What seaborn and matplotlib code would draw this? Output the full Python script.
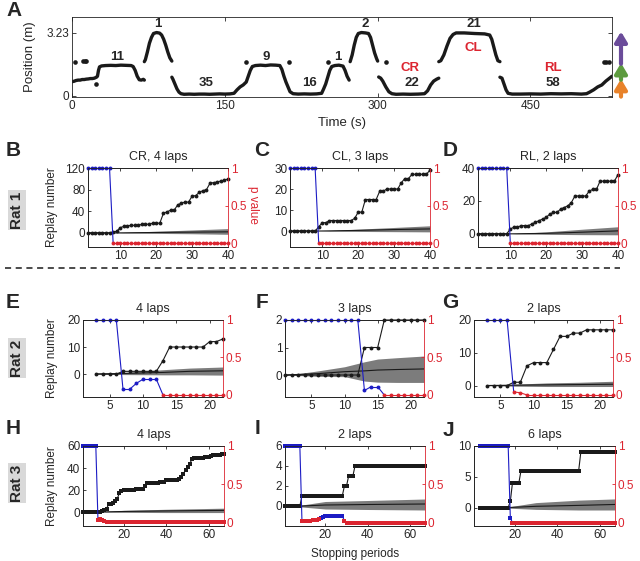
import numpy as np
import matplotlib
matplotlib.use('Agg')
import matplotlib.pyplot as plt
from matplotlib.lines import Line2D
import seaborn as sns

sns.set_theme(style="ticks")
plt.rcParams['font.family'] = ['Liberation Sans', 'DejaVu Sans']
plt.rcParams['axes.linewidth'] = 0.6

RED = '#dc2530'
BLUE = '#1c1cc4'
GRAY = '#7c7c7c'
nan = np.nan

# --- panel A: position on the track vs time (NaN = gap in the trace) ---
track_t = [0, 2, 4, 6, 8, 10, 12, 14, 16, 18, 20, 22, 24, 25, 26, 27, 29, 33, 38, 43, 48, 53, 58, 60, 62, 64, 66, 68, 70, 71, nan,
           71, 72, 74, 76, 78, 80, 83, 86, 88, 90, 92, 94, 96, 98, nan,
           98, 99, 101, 103, 105, 107, 110, 115, 120, 125, 130, 135, 140, 145, 150, 155, 159, 162, 165, 168, 171, 173, 175, 177,
           180, 185, 190, 195, 200, 204, 206, 208, 210, 212, 214, 217, 222, 228, 234, 240, 245, 247, 249, 251, 253, 255,
           258, 262, 266, 268, 270, 272, nan,
           273, 275, 277, 279, 281, 284, 288, 291, 293, 295, 297, 299, 300, nan,
           301, 303, 305, 308, 311, 314, 318, 325, 332, 340, 346, 349, 352, 355, 358, 360, nan,
           360, 362, 365, 368, 371, 374, 377, 385, 395, 405, 410, 412, 414, 416, 418, 420, nan,
           420, 422, 424, 426, 428, 432, 440, 450, 460, 470, 480, 490, 500, 505, 508, 512, 516, 520, 524, 528, 530]
track_pos = [0.72, 0.74, 0.78, 0.80, 0.80, 0.83, 0.83, 0.85, 0.86, 0.88, 0.88, 0.90, 0.95, 1.00, 1.30, 1.48, 1.53, 1.55, 1.56,
             1.55, 1.57, 1.56, 1.55, 1.50, 1.30, 1.00, 0.82, 0.80, 0.84, 0.80, nan,
             1.75, 1.85, 2.25, 2.70, 3.00, 3.20, 3.25, 3.22, 3.12, 2.90, 2.60, 2.25, 1.95, 1.78, nan,
             0.95, 0.85, 0.60, 0.35, 0.18, 0.10, 0.07, 0.08, 0.07, 0.08, 0.08, 0.07, 0.08, 0.09, 0.08, 0.09, 0.12, 0.30, 0.45,
             0.55, 0.70, 1.00, 1.30, 1.50, 1.55, 1.57, 1.55, 1.58, 1.57, 1.55, 1.35, 1.00, 0.70, 0.45, 0.20, 0.10, 0.08, 0.09,
             0.08, 0.09, 0.12, 0.35, 0.60, 0.95, 1.30, 1.50, 1.55, 1.57, 1.52, 1.30, 1.00, 0.80, nan,
             1.75, 2.10, 2.60, 3.00, 3.20, 3.25, 3.23, 3.20, 3.00, 2.60, 2.20, 1.90, 1.78, nan,
             0.96, 0.90, 0.75, 0.45, 0.20, 0.10, 0.07, 0.08, 0.07, 0.08, 0.10, 0.25, 0.55, 0.75, 0.85, 0.90, nan,
             1.75, 1.80, 2.10, 2.55, 2.95, 3.15, 3.23, 3.23, 3.20, 3.18, 3.12, 2.90, 2.50, 2.10, 1.80, 1.75, nan,
             0.95, 0.90, 0.60, 0.30, 0.12, 0.08, 0.08, 0.09, 0.08, 0.10, 0.09, 0.10, 0.08, 0.10, 0.18, 0.30, 0.45, 0.55, 0.75,
             0.92, 1.00]
dot_t = [3, 11, 13, 14, 24, 171, 213, 251, 308, 522, 524, 527]
dot_pos = [1.72, 1.78, 1.80, 1.78, 0.60, 1.72, 1.72, 1.72, 1.72, 1.75, 1.75, 1.75]
lap_text = ['11', '1', '35', '9', '16', '1', '2', '22', '21', '58']
lap_t = [44, 84, 132, 191, 233, 261, 288, 334, 394, 472]
lap_pos = [2.0, 3.68, 0.65, 2.0, 0.65, 2.0, 3.68, 0.65, 3.68, 0.65]
zone_text = ['CR', 'CL', 'RL']
zone_t = [332, 394, 472]
zone_pos = [1.4, 2.44, 1.4]

# --- panels B-J: replay number (left axis), shuffle band, p value (right axis) ---
x_B = np.arange(1, 41)
rep_B = [0, 0, 0, 0, 0, 0, 0, 2, 3, 10, 12, 13, 14, 14, 14, 16, 16, 16, 18, 18,
         18, 36, 39, 42, 42, 52, 55, 57, 57, 68, 69, 75, 78, 80, 92, 93, 94, 96, 97, 100]
p_B = [1, 1, 1, 1, 1, 1, 1, 0, 0, 0, 0, 0, 0, 0, 0, 0, 0, 0, 0, 0,
       0, 0, 0, 0, 0, 0, 0, 0, 0, 0, 0, 0, 0, 0, 0, 0, 0, 0, 0, 0]
band_x_B = [1, 8, 15, 22, 30, 40]
band_m_B = [0, 0, 0.5, 1, 1.5, 2]
band_lo_B = [0, 0, -0.5, -1, -1.5, -2.5]
band_hi_B = [0, 0, 2, 3.5, 5.5, 8]

x_C = np.arange(1, 41)
rep_C = [0, 0, 0, 0, 0, 0, 0, 0, 2, 4, 4, 5, 5, 5, 5, 5, 5, 5, 6, 9,
         9, 15, 15, 15, 15, 19, 19, 20, 20, 20, 20, 23, 25, 25, 27, 27, 27, 27, 27, 29]
p_C = [1, 1, 1, 1, 1, 1, 1, 1, 0, 0, 0, 0, 0, 0, 0, 0, 0, 0, 0, 0,
       0, 0, 0, 0, 0, 0, 0, 0, 0, 0, 0, 0, 0, 0, 0, 0, 0, 0, 0, 0]
band_x_C = [1, 9, 20, 30, 40]
band_m_C = [0, 0, 0.3, 0.7, 1.0]
band_lo_C = [0, 0, -0.2, -0.3, -0.4]
band_hi_C = [0, 0, 0.9, 1.7, 2.5]

x_D = np.arange(1, 41)
rep_D = [0, 0, 0, 0, 0, 0, 0, 0, 0, 3, 4, 4, 5, 5, 5, 6, 7, 8, 9, 10,
         12, 13, 13, 15, 16, 17, 19, 23, 23, 23, 23, 26, 27, 27, 32, 32, 32, 32, 32, 36]
p_D = [1, 1, 1, 1, 1, 1, 1, 1, 1, 0, 0, 0, 0, 0, 0, 0, 0, 0, 0, 0,
       0, 0, 0, 0, 0, 0, 0, 0, 0, 0, 0, 0, 0, 0, 0, 0, 0, 0, 0, 0]
band_x_D = [1, 10, 20, 30, 40]
band_m_D = [0, 0, 0.3, 1.0, 1.8]
band_lo_D = [0, 0, -0.3, -0.5, -0.6]
band_hi_D = [0, 0, 1.2, 2.8, 4.3]

x_E = np.arange(3, 23)
rep_E = [0, 0, 0, 0, 1, 1, 1, 1, 1, 1, 5, 10, 10, 10, 10, 10, 10, 12, 12, 13]
p_E = [1, 1, 1, 1, 0.076, 0.076, 0.155, 0.21, 0.21, 0.21, 0, 0, 0, 0, 0, 0, 0, 0, 0, 0]
band_x_E = [3, 7, 13, 17, 22]
band_m_E = [0, 0.2, 0.6, 1.0, 1.2]
band_lo_E = [0, -0.2, -0.3, -0.3, -0.4]
band_hi_E = [0, 0.6, 1.6, 2.2, 2.6]

x_F = np.arange(1, 23)
rep_F = [0, 0, 0, 0, 0, 0, 0, 0, 0, 0, 0, 0, 1, 1, 1, 2, 2, 2, 2, 2, 2, 2]
p_F = [1, 1, 1, 1, 1, 1, 1, 1, 1, 1, 1, 1, 0.06, 0.11, 0.11, 0, 0, 0, 0, 0, 0, 0]
band_x_F = [1, 3, 6, 10, 13, 15, 18, 22]
band_m_F = [0, 0.02, 0.05, 0.12, 0.15, 0.18, 0.2, 0.22]
band_lo_F = [0, -0.02, -0.05, -0.06, -0.22, -0.26, -0.27, -0.27]
band_hi_F = [0, 0.05, 0.15, 0.3, 0.48, 0.58, 0.63, 0.69]

x_G = np.arange(3, 23)
rep_G = [0, 0, 0, 0, 1, 1, 6, 7, 7, 7, 11, 15, 15, 16, 16, 17, 17, 17, 17, 17]
p_G = [1, 1, 1, 1, 0.04, 0.03, 0, 0, 0, 0, 0, 0, 0, 0, 0, 0, 0, 0, 0, 0]
band_x_G = [3, 7, 12, 17, 22]
band_m_G = [0, 0.1, 0.2, 0.3, 0.4]
band_lo_G = [0, -0.2, -0.3, -0.3, -0.3]
band_hi_G = [0, 0.4, 0.8, 1.0, 1.3]

x_H = np.arange(1, 68)
rep_H = [0, 0, 0, 0, 0, 0, 0, 0, 0, 1, 2, 3, 7, 7, 8, 10, 12, 17, 19, 20,
         20, 20, 20, 20, 20, 21, 21, 21, 21, 24, 26, 26, 26, 26, 26, 26, 27, 27, 27, 29,
         29, 29, 29, 29, 29, 30, 32, 35, 38, 41, 44, 48, 49, 49, 49, 49, 49, 50, 50, 50,
         51, 52, 52, 52, 52, 53, 53]
p_H = [1, 1, 1, 1, 1, 1, 1, 0.04, 0.045, 0.04, 0.02, 0.01, 0.01, 0.01, 0.01, 0.01, 0.01, 0.01, 0.01, 0.01,
       0.01, 0.01, 0.01, 0.01, 0.01, 0.01, 0.01, 0.01, 0.01, 0.01, 0.01, 0.01, 0.01, 0.01, 0.01, 0.01, 0.01, 0.01, 0.01, 0.01,
       0.01, 0.01, 0.01, 0.01, 0.01, 0.01, 0.01, 0.01, 0.01, 0.01, 0.01, 0.01, 0.01, 0.01, 0.01, 0.01, 0.01, 0.01, 0.01, 0.01,
       0.01, 0.01, 0.01, 0.01, 0.01, 0.01, 0.01]
band_x_H = [1, 8, 20, 40, 67]
band_m_H = [0, 0, 0.5, 1.0, 1.5]
band_lo_H = [0, 0, -0.3, -0.5, -0.5]
band_hi_H = [0, 0, 1.5, 2.5, 3.5]

x_I = np.arange(1, 68)
rep_I = [0, 0, 0, 0, 0, 0, 0, 0, 1, 1, 1, 1, 1, 1, 1, 1, 1, 1, 1, 1,
         1, 1, 1, 1, 1, 1, 1, 1, 2, 2, 3, 3, 3, 4, 4, 4, 4, 4, 4, 4,
         4, 4, 4, 4, 4, 4, 4, 4, 4, 4, 4, 4, 4, 4, 4, 4, 4, 4, 4, 4,
         4, 4, 4, 4, 4, 4, 4]
p_I = [1, 1, 1, 1, 1, 1, 1, 1, 0.02, 0.02, 0.025, 0.03, 0.03, 0.035, 0.04, 0.04, 0.045, 0.07, 0.08, 0.09,
       0.09, 0.09, 0.09, 0.09, 0.09, 0.09, 0.09, 0.09, 0.03, 0.005, 0.005, 0.005, 0.005, 0.005, 0.005, 0.005, 0.005, 0.005, 0.005, 0.005,
       0.005, 0.005, 0.005, 0.005, 0.005, 0.005, 0.005, 0.005, 0.005, 0.005, 0.005, 0.005, 0.005, 0.005, 0.005, 0.005, 0.005, 0.005, 0.005, 0.005,
       0.005, 0.005, 0.005, 0.005, 0.005, 0.005, 0.005]
band_x_I = [1, 9, 20, 40, 67]
band_m_I = [0, 0, 0.1, 0.15, 0.2]
band_lo_I = [0, -0.1, -0.3, -0.35, -0.4]
band_hi_I = [0, 0.1, 0.45, 0.55, 0.7]

x_J = np.arange(4, 68)
rep_J = [0, 0, 0, 0, 0, 0, 0, 0, 0, 0, 0, 0, 0, 0, 1, 4, 4, 4, 4, 6,
         6, 6, 6, 6, 6, 6, 6, 6, 6, 6, 6, 6, 6, 6, 6, 6, 6, 6, 6, 6,
         6, 6, 6, 6, 6, 6, 6, 9, 9, 9, 9, 9, 9, 9, 9, 9, 9, 9, 9, 9,
         9, 9, 9, 9]
p_J = [1, 1, 1, 1, 1, 1, 1, 1, 1, 1, 1, 1, 1, 1, 0.07, 0, 0, 0, 0, 0,
       0, 0, 0, 0, 0, 0, 0, 0, 0, 0, 0, 0, 0, 0, 0, 0, 0, 0, 0, 0,
       0, 0, 0, 0, 0, 0, 0, 0, 0, 0, 0, 0, 0, 0, 0, 0, 0, 0, 0, 0,
       0, 0, 0, 0]
band_x_J = [4, 17, 30, 50, 67]
band_m_J = [0, 0, 0.2, 0.35, 0.5]
band_lo_J = [0, -0.1, -0.3, -0.4, -0.4]
band_hi_J = [0, 0.1, 0.8, 1.2, 1.4]

FIG_W, FIG_H = 640, 561
fig = plt.figure(figsize=(6.4, 5.61), dpi=100)

TICK_FS = 8.5


def add_ax(left, top, right, bottom):
    return fig.add_axes([left / FIG_W, 1 - bottom / FIG_H,
                         (right - left) / FIG_W, (bottom - top) / FIG_H])


def style_spines(ax):
    for s in ax.spines.values():
        s.set_linewidth(0.6)
        s.set_color('#222222')


# ---------------- panel A ----------------
axA = add_ax(72, 17, 612, 97)
axA.plot(track_t, track_pos, color='k', lw=2.4, solid_capstyle='round')
sns.scatterplot(x=dot_t, y=dot_pos, ax=axA, color='k', s=11, linewidth=0)
for txt, t, p in zip(lap_text, lap_t, lap_pos):
    axA.text(t, p, txt, ha='center', va='center', fontsize=9.5, fontweight='bold')
for txt, t, p in zip(zone_text, zone_t, zone_pos):
    axA.text(t, p, txt, ha='center', va='center', fontsize=9.5, fontweight='bold', color=RED)
axA.set_xlim(0, 530)
axA.set_ylim(-0.07, 4.05)
axA.set_xticks([0, 150, 300, 450])
axA.set_yticks([0, 3.23])
axA.set_yticklabels(['0', '3.23'])
axA.tick_params(direction='in', length=3, width=0.6, labelsize=TICK_FS, pad=2, top=True, right=True)
axA.set_xlabel('Time (s)', fontsize=9.5)
axA.set_ylabel('Position (m)', fontsize=9.5, va='center')
axA.xaxis.set_label_coords(0.5, -0.25)
axA.yaxis.set_label_coords(-0.078, 0.5)
style_spines(axA)

arrow_x = (621 - 72) / 540
for y0, y1, col in [(-0.05, 0.86, '#e8822a'), (0.82, 1.68, '#5d9b3f'), (1.64, 3.3, '#6b4c9a')]:
    axA.annotate('', xy=(arrow_x, y1), xytext=(arrow_x, y0),
                 xycoords=('axes fraction', 'data'), textcoords=('axes fraction', 'data'),
                 arrowprops=dict(arrowstyle='-|>,head_length=0.5,head_width=0.3', color=col, lw=3,
                                 shrinkA=0, shrinkB=0),
                 annotation_clip=False)


# ---------------- panels B-J ----------------
def replay_panel(box, x, rep, pv, bx, bm, blo, bhi, xlim, ylim, yticks, xticks, pbottom,
                 title, marker, ms):
    ax = add_ax(*box)
    x = np.asarray(x)
    pv = np.asarray(pv, dtype=float)
    ax.fill_between(bx, blo, bhi, color=GRAY, lw=0, zorder=1)
    ax.plot(bx, bm, color='k', lw=0.8, zorder=2)
    sns.lineplot(x=x, y=rep, ax=ax, color='k', lw=0.8, marker=marker, markersize=ms,
                 markeredgewidth=0, clip_on=False, zorder=3)
    ax.set_xlim(*xlim)
    ax.set_ylim(*ylim)
    ax.set_yticks(yticks)
    ax.set_xticks(xticks)
    ax.tick_params(direction='in', length=2.5, width=0.6, labelsize=TICK_FS, pad=2,
                   top=True, right=False)
    ax.set_title(title, fontsize=9, pad=6)
    style_spines(ax)
    ax.spines['right'].set_visible(False)

    ax2 = ax.twinx()
    sig = pv < 0.05
    for i in range(len(x) - 1):
        ax2.plot(x[i:i + 2], pv[i:i + 2], color=RED if sig[i] else BLUE, lw=0.8, clip_on=False)
    ax2.plot(x[~sig], pv[~sig], ls='none', marker=marker, ms=ms, mew=0, color=BLUE, clip_on=False)
    ax2.plot(x[sig], pv[sig], ls='none', marker=marker, ms=ms, mew=0, color=RED, clip_on=False)
    ax2.set_ylim(pbottom, 1)
    ax2.set_yticks([0, 0.5, 1])
    ax2.set_yticklabels(['0', '0.5', '1'])
    ax2.tick_params(axis='y', direction='in', length=2.5, width=0.6, labelsize=TICK_FS, pad=2,
                    colors=RED)
    style_spines(ax2)
    ax2.spines['right'].set_color(RED)
    return ax, ax2


row1 = (168, 247)
row2 = (320, 397)
row3 = (446, 526)

axB, axB2 = replay_panel((88, row1[0], 228, row1[1]), x_B, rep_B, p_B, band_x_B, band_m_B, band_lo_B, band_hi_B,
                         (1, 40), (-26, 120), [0, 40, 80, 120], [10, 20, 30, 40], -0.053, 'CR, 4 laps', 'o', 2.8)
axC, _ = replay_panel((290, row1[0], 430, row1[1]), x_C, rep_C, p_C, band_x_C, band_m_C, band_lo_C, band_hi_C,
                      (1, 40), (-7.6, 30), [0, 10, 20, 30], [10, 20, 30, 40], -0.053, 'CL, 3 laps', 'o', 2.8)
axD, _ = replay_panel((478, row1[0], 618, row1[1]), x_D, rep_D, p_D, band_x_D, band_m_D, band_lo_D, band_hi_D,
                      (1, 40), (-8, 40), [0, 20, 40], [10, 20, 30, 40], -0.053, 'RL, 2 laps', 'o', 2.8)

axE, _ = replay_panel((83, row2[0], 223, row2[1]), x_E, rep_E, p_E, band_x_E, band_m_E, band_lo_E, band_hi_E,
                      (1, 22), (-8.5, 20), [0, 10, 20], [5, 10, 15, 20], -0.027, '4 laps', 'o', 2.8)
axF, _ = replay_panel((285, row2[0], 424, row2[1]), x_F, rep_F, p_F, band_x_F, band_m_F, band_lo_F, band_hi_F,
                      (1, 22), (-0.8, 2), [0, 1, 2], [5, 10, 15, 20], -0.027, '3 laps', 'o', 2.8)
axG, _ = replay_panel((474, row2[0], 613, row2[1]), x_G, rep_G, p_G, band_x_G, band_m_G, band_lo_G, band_hi_G,
                      (1, 22), (-3.5, 20), [0, 10, 20], [5, 10, 15, 20], -0.027, '2 laps', 'o', 2.8)

axH, _ = replay_panel((83, row3[0], 224, row3[1]), x_H, rep_H, p_H, band_x_H, band_m_H, band_lo_H, band_hi_H,
                      (1, 67), (-12.7, 60), [0, 20, 40, 60], [20, 40, 60], -0.04, '4 laps', 's', 2.2)
axI, _ = replay_panel((285, row3[0], 425, row3[1]), x_I, rep_I, p_I, band_x_I, band_m_I, band_lo_I, band_hi_I,
                      (1, 67), (-2, 6), [0, 2, 4, 6], [20, 40, 60], -0.04, '2 laps', 's', 2.2)
axJ, _ = replay_panel((474, row3[0], 615, row3[1]), x_J, rep_J, p_J, band_x_J, band_m_J, band_lo_J, band_hi_J,
                      (1, 67), (-3, 10), [0, 5, 10], [20, 40, 60], -0.04, '6 laps', 's', 2.2)

for ax, left in [(axB, 88), (axE, 83), (axH, 83)]:
    ax.set_ylabel('Replay number', fontsize=8.5, va='center')
    ax.yaxis.set_label_coords((52 - left) / 140, 0.5)
axB2.set_ylabel('p value', fontsize=8.5, color=RED, rotation=270, va='center')
axB2.yaxis.set_label_coords((253 - 88) / 140, 0.53)
axI.set_xlabel('Stopping periods', fontsize=8.5)
axI.xaxis.set_label_coords(0.5, -0.27)

# panel letters
letters = [('A', 14, 11), ('B', 13, 150), ('C', 262, 150), ('D', 450, 150),
           ('E', 13, 302), ('F', 262, 302), ('G', 450, 302),
           ('H', 13, 428), ('I', 258, 428), ('J', 448, 430)]
for s, lx, ly in letters:
    fig.text(lx / FIG_W, 1 - ly / FIG_H, s, fontsize=15, fontweight='bold', ha='center', va='center')

for s, ly in [('Rat 1', 210), ('Rat 2', 358), ('Rat 3', 483)]:
    fig.text(17 / FIG_W, 1 - ly / FIG_H, s, rotation=90, fontsize=11, fontweight='bold',
             ha='center', va='center', bbox=dict(fc='#d9d9d9', ec='none', pad=1.2))

fig.add_artist(Line2D([5 / FIG_W, 620 / FIG_W], [1 - 268 / FIG_H] * 2, color='k', lw=1.1,
                      ls=(0, (4, 3))))

fig.savefig('out.png', dpi=100)
